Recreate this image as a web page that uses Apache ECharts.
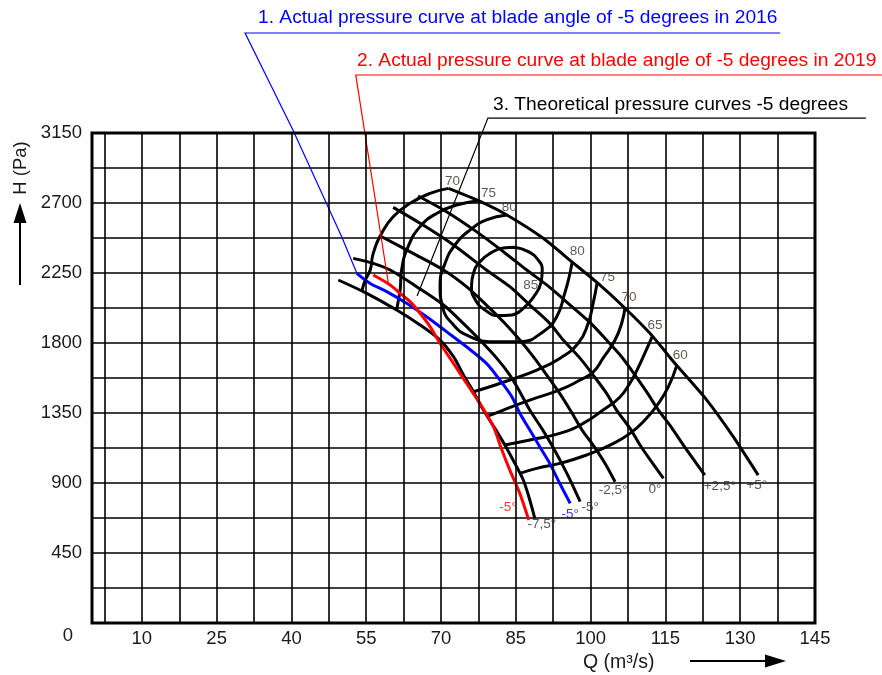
<!DOCTYPE html>
<html><head><meta charset="utf-8">
<script src="https://cdn.jsdelivr.net/npm/echarts@6/dist/echarts.min.js"></script>
<style>html,body{margin:0;padding:0;background:#fff}#c{width:882px;height:675px}</style>
</head><body><div id="c"></div>
<script>
// ---- axis ticks ----
const xTickLabels = [10, 25, 40, 55, 70, 85, 100, 115, 130, 145];
const yTickLabels = [0, 450, 900, 1350, 1800, 2250, 2700, 3150];
const xGridLines = [2.5, 10, 17.5, 25, 32.5, 40, 47.5, 55, 62.5, 70, 77.5, 85, 92.5, 100, 107.5, 115, 122.5, 130, 137.5];

// ---- theoretical pressure curves by blade angle [Q, H] ----
const angleP5  = [[71.5,2794],[77.5,2715],[83.2,2623],[90.5,2473],[96.2,2323],[101.5,2183],[106.6,2033],[111.9,1862],[117.2,1658],[123.3,1433],[128.6,1198],[133.6,951]];
const angleP25 = [[65.4,2745],[71.1,2644],[77.1,2516],[82.5,2387],[87.2,2269],[91.8,2158],[95.9,2044],[99.9,1931],[103.2,1819],[106.2,1712],[108.9,1594],[111.2,1487],[113.6,1369],[116.2,1258],[118.6,1144],[122.9,951]];
const angle0   = [[60.4,2672],[66.4,2558],[72.5,2430],[79.1,2269],[83.8,2162],[87.8,2044],[91.8,1926],[94.5,1819],[97.9,1701],[100.5,1594],[103.2,1476],[105.2,1369],[107.9,1251],[109.9,1144],[112.2,1037],[114.6,930]];
const angleM25 = [[58.1,2483],[64.4,2376],[70.5,2269],[75.1,2162],[79.1,2044],[82.5,1937],[85.8,1819],[88.5,1712],[91.2,1594],[93.8,1476],[95.9,1369],[98.5,1230],[100.5,1144],[102.9,1026],[104.9,908]];
const angleM5  = [[52.4,2344],[56.4,2312],[59.8,2269],[65.1,2162],[70.5,2044],[74.1,1937],[77.8,1819],[81.2,1701],[83.8,1594],[85.8,1487],[87.8,1369],[90.2,1251],[92.2,1144],[94.2,1026],[95.9,919],[97.9,780]];
const angleM75 = [[49.4,2205],[55.1,2119],[61.1,2012],[65.8,1916],[69.8,1819],[72.5,1712],[74.5,1594],[76.5,1487],[78.5,1369],[80.8,1251],[82.8,1144],[84.8,1026],[86.5,919],[87.8,791],[88.8,673]];

// ---- efficiency contours (%) ----
const eff85      = [[84.8,2415],[87.5,2387],[89.5,2333],[90.3,2269],[90.0,2183],[88.6,2098],[86.5,2023],[84.2,1980],[81.5,1976],[78.8,2012],[76.9,2076],[76.1,2162],[76.5,2248],[77.8,2323],[80.1,2381],[82.5,2411],[84.8,2415]];
const eff80      = [[83.2,2623],[79.1,2591],[75.8,2526],[72.8,2430],[70.8,2312],[69.8,2173],[70.3,2033],[72.5,1916],[75.8,1841],[80.5,1808],[85.8,1808],[90.5,1873],[93.2,1969],[94.8,2119],[95.7,2226],[96.3,2321]];
const eff75Left  = [[77.5,2715],[73.1,2687],[69.1,2633],[65.8,2548],[63.4,2419],[62.1,2269],[61.8,2141],[61.4,2066],[61.1,2012]];
const eff75Right = [[101.3,2186],[100.5,2055],[99.5,1926],[97.5,1798],[93.8,1701],[89.2,1626],[83.8,1562],[79.8,1519],[76.5,1487]];
const eff70Left  = [[71.5,2794],[67.8,2762],[63.8,2698],[60.4,2612],[58.1,2505],[56.4,2376],[55.8,2269],[54.8,2205],[54.1,2130]];
const eff70Right = [[106.9,2031],[106.3,1935],[104.9,1819],[102.5,1703],[100.5,1613],[97.9,1562],[93.8,1498],[87.8,1433],[82.5,1369],[79.1,1326]];
const eff65      = [[112.3,1838],[110.9,1736],[109.3,1626],[107.9,1543],[105.9,1453],[102.5,1369],[98.5,1283],[93.8,1219],[87.8,1176],[82.8,1144]];
const eff60      = [[117.3,1658],[115.6,1519],[113.6,1412],[111.2,1316],[107.9,1219],[103.9,1144],[99.2,1080],[93.8,1026],[89.2,994],[85.8,962]];

// ---- measured curves at -5 degrees ----
const actual2016 = [[53.1,2248],[55.8,2183],[59.1,2130],[63.1,2055],[67.1,1969],[71.1,1873],[75.1,1776],[79.1,1669],[81.8,1562],[84.2,1455],[85.8,1348],[87.8,1241],[89.8,1133],[91.8,1026],[93.8,898],[95.9,769]];
const actual2019 = [[56.4,2237],[59.8,2173],[61.8,2119],[63.8,2066],[65.8,1991],[67.8,1905],[69.8,1798],[72.5,1669],[75.1,1541],[77.8,1412],[80.5,1262],[82.2,1112],[83.8,983],[85.8,833],[87.6,662]];

// ---- curve labels ----
const effLabelText = ['70','75','80','80','75','70','65','60','85'];
const effLabelPos  = [[72.3,2837],[79.5,2762],[83.7,2672],[97.3,2391],[103.4,2222],[107.7,2091],[112.9,1911],[118.0,1723],[88.0,2173]];
const angleLabelText = ['+5°','+2,5°','0°','-2,5°','-5°','-7,5°'];
const angleLabelPos  = [[133.3,887],[125.9,876],[112.9,861],[104.5,851],[99.9,743],[90.2,632]];
const label2016Pos = [[95.9,701]];
const label2019Pos = [[83.4,743]];

// ---- annotation leaders [Q, H] ----
const leader2016 = [[138.0,3793],[30.7,3793],[40.3,3169],[50.1,2481],[53.1,2250]];
const leader2019 = [[158.4,3523],[52.9,3523],[59.4,2192]];
const leaderTheory = [[155.2,3246],[79.4,3246],[65.2,2102]];
const noteTexts = ['1. Actual pressure curve at blade angle of -5 degrees in 2016',
                   '2. Actual pressure curve at blade angle of -5 degrees in 2019',
                   '3. Theoretical pressure curves -5 degrees'];

const FONT = "'Liberation Sans', Arial, sans-serif";
const TXT = '#1a1a1a';
const chart = echarts.init(document.getElementById('c'));

function curve(data, color, width, smooth) {
  return {type: 'line', data: data, showSymbol: false, symbol: 'none', smooth: smooth === undefined ? 0.3 : smooth,
          lineStyle: {color: color, width: width}, silent: true, z: 3};
}
function labels(pos, texts, color, size) {
  return {type: 'scatter', symbolSize: 0, silent: true, z: 5,
          data: pos.map((p, i) => ({value: p, name: texts[i]})),
          label: {show: true, position: 'inside', formatter: '{b}', color: color, fontSize: size, fontFamily: FONT}};
}
function leader(coords, color, arrow) {
  return {type: 'lines', coordinateSystem: 'cartesian2d', polyline: true, clip: false, silent: true, z: 4,
          symbol: arrow ? ['none', 'arrow'] : ['none', 'none'], symbolSize: 10,
          lineStyle: {color: color, width: 1.2, opacity: 1},
          data: [{coords: coords}]};
}

const option = {
  animation: false,
  backgroundColor: '#ffffff',
  grid: {left: 92, right: 67, top: 133, bottom: 52, show: true, borderColor: '#000', borderWidth: 3, backgroundColor: 'transparent', z: 10},
  xAxis: {type: 'value', min: 0, max: 145, interval: 5,
    axisLine: {show: false}, axisTick: {show: false}, splitLine: {show: false},
    axisLabel: {margin: 6, color: TXT, fontSize: 18.5, fontFamily: FONT, showMinLabel: true, showMaxLabel: true,
      formatter: v => xTickLabels.indexOf(v) >= 0 ? String(v) : ''}},
  yAxis: {type: 'value', min: 0, max: 3150, interval: 225,
    axisLine: {show: false}, axisTick: {show: false},
    splitLine: {show: true, lineStyle: {color: '#000', width: 1.6}},
    axisLabel: {margin: 10, color: TXT, fontSize: 18.5, fontFamily: FONT,
      formatter: v => v === 0 ? '{z|0}' : (yTickLabels.indexOf(v) >= 0 ? String(v) : ''),
      rich: {z: {padding: [26, 9, 0, 0], color: TXT, fontSize: 18.5, fontFamily: FONT}}}},
  graphic: [
    {type: 'text', x: 258, y: 18, style: {text: noteTexts[0], fill: '#0000ff', fontSize: 19.2, fontFamily: FONT, verticalAlign: 'middle', textVerticalAlign: 'middle'}},
    {type: 'text', x: 357, y: 61, style: {text: noteTexts[1], fill: '#ff0000', fontSize: 19.2, fontFamily: FONT, verticalAlign: 'middle', textVerticalAlign: 'middle'}},
    {type: 'text', x: 493, y: 105, style: {text: noteTexts[2], fill: '#000000', fontSize: 19.2, fontFamily: FONT, verticalAlign: 'middle', textVerticalAlign: 'middle'}},
    {type: 'text', x: 21, y: 168, rotation: Math.PI / 2, style: {text: 'H (Pa)', fill: TXT, fontSize: 18.5, fontFamily: FONT, align: 'center', textAlign: 'center', verticalAlign: 'middle', textVerticalAlign: 'middle'}},
    {type: 'line', shape: {x1: 20, y1: 285, x2: 20, y2: 220}, style: {stroke: '#000', lineWidth: 2}},
    {type: 'polygon', shape: {points: [[20, 203], [13.5, 223], [26.5, 223]]}, style: {fill: '#000'}},
    {type: 'text', x: 583, y: 663, style: {text: 'Q (m³/s)', fill: TXT, fontSize: 19.5, fontFamily: FONT, verticalAlign: 'middle', textVerticalAlign: 'middle'}},
    {type: 'line', shape: {x1: 690, y1: 661, x2: 768, y2: 661}, style: {stroke: '#000', lineWidth: 2}},
    {type: 'polygon', shape: {points: [[786, 661], [765, 654.5], [765, 667.5]]}, style: {fill: '#000'}}
  ],
  series: [
    {type: 'line', data: [], silent: true, z: 1,
     markLine: {silent: true, symbol: ['none', 'none'], label: {show: false}, animation: false,
       lineStyle: {color: '#000', width: 1.6, type: 'solid'},
       data: xGridLines.map(v => ({xAxis: v}))}},
    curve(angleP5, '#000', 3, 0.2),
    curve(angleP25, '#000', 3),
    curve(angle0, '#000', 3),
    curve(angleM25, '#000', 3),
    curve(angleM5, '#000', 3),
    curve(angleM75, '#000', 3),
    curve(eff85, '#000', 3, 0.5),
    curve(eff80, '#000', 3, 0.5),
    curve(eff75Left, '#000', 3, 0.5),
    curve(eff75Right, '#000', 3, 0.5),
    curve(eff70Left, '#000', 3, 0.5),
    curve(eff70Right, '#000', 3, 0.5),
    curve(eff65, '#000', 3, 0.5),
    curve(eff60, '#000', 3, 0.5),
    curve(actual2016, '#0000ff', 3),
    curve(actual2019, '#ff0000', 3),
    leader(leader2016, '#0000ff', true),
    leader(leader2019, '#ff0000', false),
    leader(leaderTheory, '#000000', false),
    labels(effLabelPos, effLabelText, '#3d3222', 13.5),
    labels(angleLabelPos, angleLabelText, '#2a2a2a', 13.5),
    labels(label2016Pos, ['-5°'], '#0000ff', 13.5),
    labels(label2019Pos, ['-5°'], '#ff0000', 13.5)
  ]
};
chart.setOption(option);
</script></body></html>
